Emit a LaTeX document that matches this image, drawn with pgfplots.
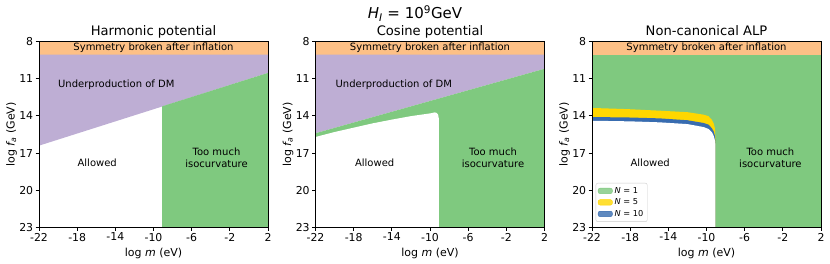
\documentclass[border=0pt]{standalone}
\usepackage{fontspec}
\setmainfont{DejaVu Sans}
\usepackage{pgfplots}
\pgfplotsset{compat=1.18}
\definecolor{cgreen}{HTML}{7FC97F}
\definecolor{cpurple}{HTML}{BEAED4}
\definecolor{corange}{HTML}{FDC086}
\definecolor{cyellow}{HTML}{FFD700}
\definecolor{cblue}{HTML}{386CB0}
\tikzset{reg/.style={font=\fontsize{10}{12}\selectfont, align=center, anchor=center}}
\pgfplotsset{
  every axis title/.style={at={(0.5,1)}, anchor=base, yshift=5.5pt, font=\fontsize{13.1}{15}\selectfont},
  every axis x label/.style={at={(axis description cs:0.5,0)}, anchor=base, yshift=-29pt},
  every axis y label/.style={at={(axis description cs:0,0.5)}, anchor=center, rotate=90, yshift=27.5pt},
  panel/.style={
    scale only axis, width=229pt, height=186pt,
    xmin=-22, xmax=2, ymin=8, ymax=23, y dir=reverse,
    xtick={-22,-18,-14,-10,-6,-2,2},
    xticklabels={-22,-18,-14,-10,-6,-2,2},
    ytick={8,11,14,17,20,23},
    yticklabels={8,11,14,17,20,23},
    tick align=outside, tick pos=left,
    major tick length=3.5pt,
    every tick/.style={black, line width=0.8pt},
    axis line style={line width=0.8pt},
    axis on top,
    ticklabel style={font=\fontsize{10.9}{12}\selectfont},
    xticklabel style={yshift=1.5pt},
    yticklabel style={xshift=1.2pt},
    label style={font=\fontsize{11}{13}\selectfont},
    xlabel={log {\itshape m} (eV)},
    ylabel={log {\itshape f}\textsubscript{\itshape a} (GeV)},
    anchor=south west,
  },
}
\begin{document}
\begin{tikzpicture}
\path (0,0) rectangle (830pt,264pt);
% ---------------- Harmonic
\begin{axis}[panel, at={(39pt,36.5pt)}, title={Harmonic potential}]
\addplot[fill=corange, draw=none] coordinates {(-22,8) (2,8) (2,9.05) (-22,9.05)} -- cycle;
\addplot[fill=cpurple, draw=none] coordinates {(-22,9.05) (2,9.05) (2,10.53) (-22,16.4)} -- cycle;
\addplot[fill=cgreen, draw=none] coordinates {(-9.1,13.23) (2,10.53) (2,23) (-9.1,23)} -- cycle;
\node[reg] at (axis cs:-10,8.5) {Symmetry broken after inflation};
\node[reg] at (axis cs:-13.9,11.5) {Underproduction of DM};
\node[reg] at (axis cs:-15.9,17.78) {Allowed};
\node[reg] at (axis cs:-3.4,17.36) {Too much\\isocurvature};
\end{axis}
% ---------------- Cosine
\begin{axis}[panel, at={(315.5pt,36.5pt)}, title={Cosine potential}]
\addplot[fill=corange, draw=none] coordinates {(-22,8) (2,8) (2,9.05) (-22,9.05)} -- cycle;
\addplot[fill=cpurple, draw=none] coordinates {(-22,9.05) (2,9.05) (2,10.2) (-22,15.4)} -- cycle;
\addplot[fill=cgreen, draw=none] coordinates {(-22,15.4) (2,10.2) (2,23) (-22,23)} -- cycle;
\addplot[fill=white, draw=none] coordinates {(-22,15.7) (-20,15.3) (-18,14.95) (-16,14.6) (-14,14.3) (-12,14.02) (-10,13.8) (-9.5,13.72) (-9.3,13.76) (-9.15,13.9) (-9.08,14.2) (-9.07,14.6) (-9.07,23) (-22,23)} -- cycle;
\node[reg] at (axis cs:-10,8.5) {Symmetry broken after inflation};
\node[reg] at (axis cs:-13.8,11.5) {Underproduction of DM};
\node[reg] at (axis cs:-15.8,17.78) {Allowed};
\node[reg] at (axis cs:-3.4,17.36) {Too much\\isocurvature};
\end{axis}
% ---------------- Non-canonical
\begin{axis}[panel, at={(592pt,36.5pt)}, title={Non-canonical ALP},
  legend style={at={(0,0)}, anchor=south west, xshift=3.7pt, yshift=5.6pt,
    draw=black!20, rounded corners=2pt, fill=white, fill opacity=0.8, text opacity=1,
    font=\fontsize{8.2}{9.5}\selectfont, row sep=0pt, inner sep=2pt},
  legend cell align=left]
\addplot[fill=corange, draw=none, forget plot] coordinates {(-22,8) (2,8) (2,9.05) (-22,9.05)} -- cycle;
\addplot[fill=cgreen, draw=none, forget plot] coordinates {(-22,9.05) (2,9.05) (2,23) (-22,23)} -- cycle;
\addplot[fill=cyellow, draw=none, forget plot] coordinates {(-22,13.36) (-18.4,13.45) (-14.9,13.58) (-12,13.7) (-10.3,13.9) (-9.8,14.02) (-9.45,14.3) (-9.25,14.6) (-9.12,15.0) (-9.08,15.6) (-9.08,23) (-22,23)} -- cycle;
\addplot[fill=cblue, draw=none, forget plot] coordinates {(-22,14.09) (-18,14.13) (-14.9,14.2) (-12,14.35) (-10.3,14.57) (-9.8,14.7) (-9.45,14.98) (-9.25,15.25) (-9.12,15.6) (-9.08,15.9) (-9.08,23) (-22,23)} -- cycle;
\addplot[fill=white, draw=none, forget plot] coordinates {(-22,14.39) (-18,14.44) (-14.9,14.52) (-12,14.66) (-10.3,14.9) (-9.8,15.05) (-9.45,15.3) (-9.25,15.6) (-9.12,15.95) (-9.08,16.25) (-9.08,23) (-22,23)} -- cycle;
\addlegendimage{legend image code/.code={\fill[cgreen] (0pt,-2.7pt) rectangle (14.3pt,2.7pt);}}
\addlegendentry{{\itshape N} = 1}
\addlegendimage{legend image code/.code={\fill[cyellow] (0pt,-2.7pt) rectangle (14.3pt,2.7pt);}}
\addlegendentry{{\itshape N} = 5}
\addlegendimage{legend image code/.code={\fill[cblue] (0pt,-2.7pt) rectangle (14.3pt,2.7pt);}}
\addlegendentry{{\itshape N} = 10}
\node[reg] at (axis cs:-10,8.5) {Symmetry broken after inflation};
\node[reg] at (axis cs:-15.9,17.78) {Allowed};
\node[reg] at (axis cs:-3.3,17.36) {Too much\\isocurvature};
\end{axis}
\node[font=\fontsize{15}{18}\selectfont, anchor=base] at (415pt,245pt) {{\itshape H}\textsubscript{\itshape I} = 10\textsuperscript{9}GeV};
\end{tikzpicture}
\end{document}
